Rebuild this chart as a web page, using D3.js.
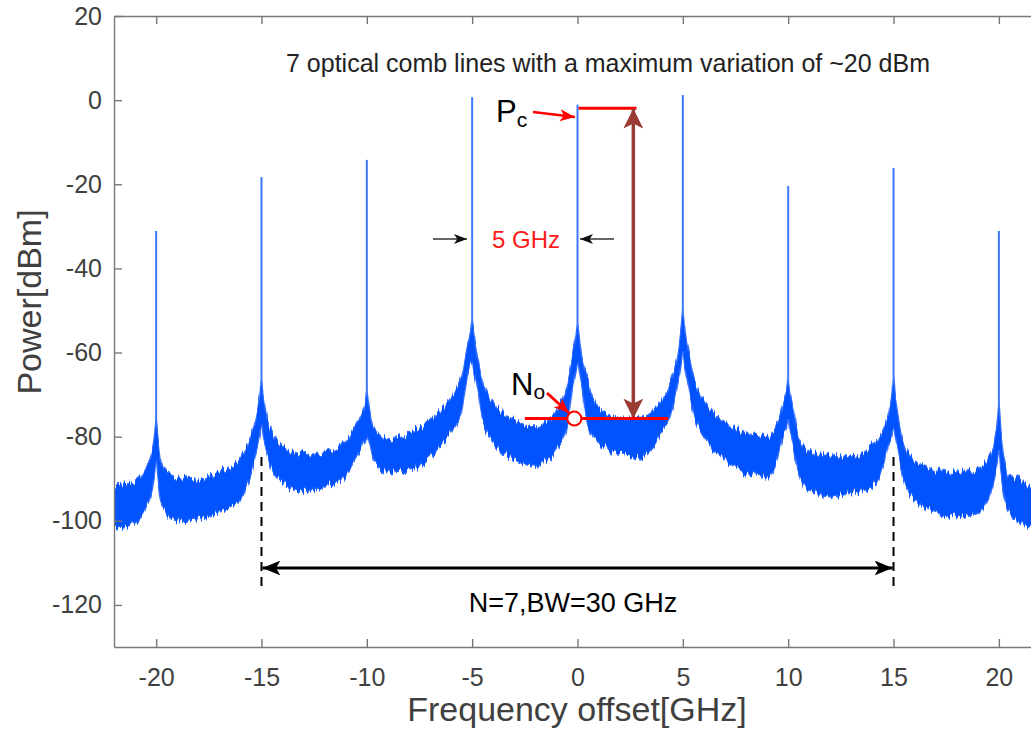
<!DOCTYPE html>
<html>
<head>
<meta charset="utf-8">
<script src="https://cdn.jsdelivr.net/npm/d3@7"></script>
<style>
  body { margin: 0; background: #fff; }
  text { font-family: "Liberation Sans", Arial, sans-serif; }
</style>
</head>
<body>
<div id="chart"></div>
<script>
// comb lines
const combFreq = [-20, -15, -10, -5, 0, 5, 10, 15, 20]
const combPeak = [-31.1, -18.3, -14.2, 0.7, -1.1, 1.2, -20.4, -16.1, -31.1]

// noise floor band (GHz, top / bottom of band in dBm)
const envFreq = [-22, -21, -20.5, -20.2, -20.08, -20, -19.92, -19.8, -19.5, -19, -18, -17, -16, -15.5, -15.2, -15.08, -15, -14.92, -14.8, -14.5, -14, -13, -12, -11, -10.5, -10.2, -10.08, -10, -9.92, -9.7, -9.5, -9, -8, -7, -6, -5.5, -5.2, -5.08, -5, -4.92, -4.8, -4.5, -4, -3, -2, -1, -0.5, -0.2, -0.08, 0, 0.08, 0.2, 0.5, 1, 2, 3, 4, 4.5, 4.8, 4.92, 5, 5.08, 5.2, 5.5, 6, 7, 8, 9, 9.5, 9.8, 9.92, 10, 10.08, 10.2, 10.5, 11, 12, 13, 14, 14.5, 14.8, 14.92, 15, 15.08, 15.2, 15.5, 16, 17, 18, 19, 19.5, 19.8, 19.92, 20, 20.08, 20.2, 20.5, 21, 21.5, 22]
const envUpper = [-91.5, -90.8, -87.5, -84, -80, -76, -80, -85, -88.4, -89.6, -90.3, -88.6, -84.8, -80, -74, -70, -66, -70, -74, -79, -82.4, -84.3, -83.6, -80.8, -77, -74, -72, -69, -72, -77.7, -79, -80.8, -79.1, -76, -70.6, -65.8, -58, -55, -52, -55, -59.4, -67, -72, -76, -77.7, -73.7, -68, -59.4, -56, -53, -56, -61, -67, -72.9, -75.6, -75.4, -71.3, -65.8, -59.4, -54, -50, -54, -57.7, -65.8, -71.3, -76.7, -79.1, -80, -76.7, -71.3, -69, -66, -69, -72, -80, -83.2, -84.8, -84.8, -82.4, -78.4, -73.7, -70, -66, -70, -74.4, -81.5, -85.5, -87.9, -88.6, -87.9, -84.8, -80.8, -77, -72, -77, -83.2, -89.6, -90.3, -92, -92.5]
const envLower = [-101.5, -100.5, -97, -93, -89, -86, -90, -95, -98, -100, -99.5, -98, -95, -89, -83, -80, -77, -80, -83, -88, -91, -93, -92, -89, -85, -82, -81, -80, -81, -85.5, -87, -88.6, -88, -85, -79, -74, -65, -63, -62, -64, -67, -76, -81, -85.5, -87, -83, -77.7, -67, -64, -62, -64, -68, -77.7, -81.5, -84, -84.8, -79, -73.7, -66.5, -63, -60, -63, -66.5, -74.4, -80, -85.5, -88.6, -89.6, -85.5, -79, -78, -76, -79, -81.5, -88.6, -92.7, -94.3, -93.4, -92, -87.2, -81, -80, -78, -80, -83, -90.3, -95, -98, -99, -98, -95, -89.6, -87, -84, -88, -93, -98, -100.3, -101.5, -102]

const xTicks = [-20, -15, -10, -5, 0, 5, 10, 15, 20]
const yTicks = [20, 0, -20, -40, -60, -80, -100, -120]

const width = 1031, height = 729
const x = d3.scaleLinear().domain([-22, 22]).range([114, 1041])
const y = d3.scaleLinear().domain([-130, 20]).range([647, 16])

const svg = d3.select('#chart').append('svg')
  .attr('width', width)
  .attr('height', height)

const defs = svg.append('defs')
defs.append('clipPath').attr('id', 'plot')
  .append('rect').attr('x', 114).attr('y', 16).attr('width', 927).attr('height', 631)

// rough the band edges so it reads like a measured trace
const rough = defs.append('filter').attr('id', 'rough')
  .attr('x', '-2%').attr('y', '-20%').attr('width', '104%').attr('height', '140%')
rough.append('feTurbulence')
  .attr('type', 'fractalNoise').attr('baseFrequency', '0.45 0.012')
  .attr('numOctaves', 2).attr('seed', 3).attr('result', 'noise')
rough.append('feColorMatrix')
  .attr('in', 'noise').attr('type', 'matrix')
  .attr('values', '0 0 0 0 0.5  0 1 0 0 0  0 0 1 0 0  0 0 0 0 1')
  .attr('result', 'disp')
rough.append('feDisplacementMap')
  .attr('in', 'SourceGraphic').attr('in2', 'disp')
  .attr('scale', 16).attr('xChannelSelector', 'R').attr('yChannelSelector', 'G')

function arrowMarker(id, color, len, wid) {
  defs.append('marker')
    .attr('id', id)
    .attr('markerUnits', 'userSpaceOnUse')
    .attr('viewBox', `0 ${-wid / 2} ${len} ${wid}`)
    .attr('refX', len).attr('refY', 0)
    .attr('markerWidth', len).attr('markerHeight', wid)
    .attr('orient', 'auto-start-reverse')
    .append('path')
    .attr('d', `M0,${-wid / 2}L${len},0L0,${wid / 2}L${len * 0.25},0Z`)
    .attr('fill', color)
}
arrowMarker('ah-black', '#000', 18, 15)
arrowMarker('ah-small', '#111', 13, 10)
arrowMarker('ah-red', '#ff0000', 15, 12)
arrowMarker('ah-brown', '#9a3b35', 20, 20)

// spectrum
const band = envFreq.map((f, i) => ({ f, hi: envUpper[i], lo: envLower[i] }))
const spec = svg.append('g').attr('clip-path', 'url(#plot)')

spec.append('path')
  .datum(band)
  .attr('d', d3.area().curve(d3.curveMonotoneX)
    .x(d => x(d.f)).y0(d => y(d.lo)).y1(d => y(d.hi)))
  .attr('fill', '#0652ff')
  .attr('stroke', '#2f6dff')
  .attr('stroke-width', 1.2)
  .attr('filter', 'url(#rough)')

spec.selectAll('line.peak')
  .data(combFreq.map((f, i) => ({ f, p: combPeak[i], base: envUpper[envFreq.indexOf(f)] })))
  .enter().append('line')
  .attr('class', 'peak')
  .attr('x1', d => x(d.f)).attr('x2', d => x(d.f))
  .attr('y1', d => y(d.base) + 6).attr('y2', d => y(d.p))
  .attr('stroke', '#3a78ff')
  .attr('stroke-width', 2)

// axes
const axisColor = '#777'
const fmt = d => String(d)
const gx = svg.append('g').attr('transform', `translate(0,${y(-130)})`)
  .call(d3.axisBottom(x).tickValues(xTicks).tickFormat(fmt).tickSize(-8).tickSizeOuter(0).tickPadding(21))
const gt = svg.append('g').attr('transform', `translate(0,${y(20)})`)
  .call(d3.axisTop(x).tickValues(xTicks).tickSize(-8).tickSizeOuter(0).tickFormat(''))
const gy = svg.append('g').attr('transform', `translate(${x(-22)},0)`)
  .call(d3.axisLeft(y).tickValues(yTicks).tickFormat(fmt).tickSize(-8).tickSizeOuter(0).tickPadding(12))

;[gx, gt, gy].forEach(g => {
  g.select('.domain').attr('stroke', axisColor).attr('stroke-width', 1.4)
  g.selectAll('.tick line').attr('stroke', axisColor).attr('stroke-width', 1.4)
  g.selectAll('.tick text').attr('fill', '#404040').style('font-size', '25px')
    .style('font-family', '"Liberation Sans", Arial, sans-serif')
})

svg.append('text')
  .attr('x', 577).attr('y', 721)
  .attr('text-anchor', 'middle')
  .attr('fill', '#404040')
  .style('font-size', '34px')
  .text('Frequency offset[GHz]')

svg.append('text')
  .attr('transform', 'translate(41,302) rotate(-90)')
  .attr('text-anchor', 'middle')
  .attr('fill', '#404040')
  .style('font-size', '34px')
  .text('Power[dBm]')

// annotations
svg.append('text')
  .attr('x', 608).attr('y', 72)
  .attr('text-anchor', 'middle')
  .attr('fill', '#222')
  .style('font-size', '25px')
  .text('7 optical comb lines with a maximum variation of ~20 dBm')

// Pc
const pc = svg.append('text').attr('x', 496).attr('y', 122).attr('fill', '#000')
pc.append('tspan').style('font-size', '31px').text('P')
pc.append('tspan').style('font-size', '21px').attr('dy', 5).text('c')
svg.append('line')
  .attr('x1', 533).attr('y1', 112).attr('x2', 575).attr('y2', 117)
  .attr('stroke', '#ff0000').attr('stroke-width', 2.5)
  .attr('marker-end', 'url(#ah-red)')
svg.append('line')
  .attr('x1', x(0.05)).attr('x2', x(2.8))
  .attr('y1', y(combPeak[4] - 0.8)).attr('y2', y(combPeak[4] - 0.8))
  .attr('stroke', '#ff0000').attr('stroke-width', 3)

// Pc - No double arrow
svg.append('line')
  .attr('x1', x(2.65)).attr('x2', x(2.65))
  .attr('y1', y(-2)).attr('y2', y(-75.7))
  .attr('stroke', '#9a3b35').attr('stroke-width', 3.5)
  .attr('marker-start', 'url(#ah-brown)')
  .attr('marker-end', 'url(#ah-brown)')

// 5 GHz spacing
svg.append('text')
  .attr('x', 526).attr('y', 248)
  .attr('text-anchor', 'middle')
  .attr('fill', '#ff1a1a')
  .style('font-size', '24px')
  .text('5 GHz')
svg.append('line')
  .attr('x1', 433).attr('x2', 467).attr('y1', 239).attr('y2', 239)
  .attr('stroke', '#333').attr('stroke-width', 1.5)
  .attr('marker-end', 'url(#ah-small)')
svg.append('line')
  .attr('x1', 614).attr('x2', 580).attr('y1', 239).attr('y2', 239)
  .attr('stroke', '#333').attr('stroke-width', 1.5)
  .attr('marker-end', 'url(#ah-small)')

// No
const no = svg.append('text').attr('x', 511).attr('y', 395).attr('fill', '#000')
no.append('tspan').style('font-size', '31px').text('N')
no.append('tspan').style('font-size', '21px').attr('dy', 4).text('o')
svg.append('line')
  .attr('x1', x(-2.5)).attr('x2', x(4.3))
  .attr('y1', y(-75.7)).attr('y2', y(-75.7))
  .attr('stroke', '#ff0000').attr('stroke-width', 3)
svg.append('line')
  .attr('x1', 547).attr('y1', 393).attr('x2', 569).attr('y2', 413)
  .attr('stroke', '#ff0000').attr('stroke-width', 3)
  .attr('marker-end', 'url(#ah-red)')
svg.append('circle')
  .attr('cx', x(-0.15)).attr('cy', y(-75.7)).attr('r', 7)
  .attr('fill', '#fff').attr('stroke', '#ff0000').attr('stroke-width', 2)

// bandwidth marker
;[-15, 15].forEach(f => {
  svg.append('line')
    .attr('x1', x(f)).attr('x2', x(f))
    .attr('y1', 457).attr('y2', 586)
    .attr('stroke', '#000').attr('stroke-width', 2)
    .attr('stroke-dasharray', '9,6')
})
svg.append('line')
  .attr('x1', x(-15) + 1).attr('x2', x(15) - 1)
  .attr('y1', 568).attr('y2', 568)
  .attr('stroke', '#000').attr('stroke-width', 3)
  .attr('marker-start', 'url(#ah-black)')
  .attr('marker-end', 'url(#ah-black)')
svg.append('text')
  .attr('x', 573).attr('y', 612)
  .attr('text-anchor', 'middle')
  .attr('fill', '#000')
  .style('font-size', '27px')
  .text('N=7,BW=30 GHz')
</script>
</body>
</html>
